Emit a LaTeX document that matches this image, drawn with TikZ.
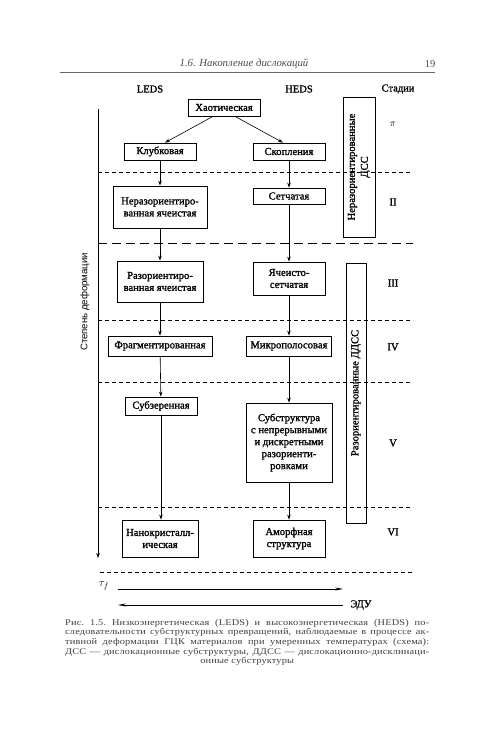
\documentclass[tikz,border=0pt]{standalone}
\usepackage{fontspec}
\setmainfont{Liberation Serif}
\setsansfont{Liberation Sans}
\newfontfamily\boxfont[FakeBold=1.4]{Liberation Serif}
\newfontfamily\capfont[FakeStretch=1.18,LetterSpace=2]{Liberation Serif}
\usetikzlibrary{arrows.meta}
\begin{document}
\begin{tikzpicture}[x=1pt,y=-1pt,
  bx/.style={draw,line width=0.8pt,inner sep=1pt,align=center,font=\boxfont\fontsize{10.6}{12}\selectfont},
  arr/.style={line width=0.6pt,-{Stealth[length=5pt,width=3.5pt]}},
  dsh/.style={line width=0.6pt,dash pattern=on 4pt off 3pt},
  ldsh/.style={line width=0.7pt,dash pattern=on 9pt off 5pt},
  lab/.style={font=\boxfont\fontsize{10.5}{11}\selectfont},
  stg/.style={font=\boxfont\fontsize{10.5}{11}\selectfont}]
\useasboundingbox[fill=white] (0,0) rectangle (500,750);
% header
\node[font=\itshape\fontsize{10.8}{11}\selectfont,text=black!70] (hdr) at (244,64) {1.6. Накопление дислокаций};
\node[font=\fontsize{10.5}{11}\selectfont,text=black!70] (pg) at (430,64) {19};
\draw[black!60,line width=0.6pt] (60,72) coordinate (hl) -- (435,72) coordinate (hr);
% column labels
\node[lab] (leds) at (150,89) {LEDS};
\node[lab] (heds) at (299,89) {HEDS};
\node[lab] (stad) at (398,89) {Стадии};
% boxes
\node[bx,minimum width=72pt,minimum height=17pt] (chaos) at (224,107.5) {Хаотическая};
\node[bx,minimum width=72pt,minimum height=17pt] (klub) at (160,151.5) {Клубковая};
\node[bx,minimum width=72pt,minimum height=17pt] (skop) at (289,151.5) {Скопления};
\node[bx,minimum width=94pt,minimum height=42pt] (nerazor) at (160,207) {Неразориентиро-\\ванная ячеистая};
\node[bx,minimum width=72pt,minimum height=16pt] (setch) at (289,196) {Сетчатая};
\node[bx,minimum width=86pt,minimum height=41pt] (razor) at (160,281.5) {Разориентиро-\\ванная ячеистая};
\node[bx,minimum width=72pt,minimum height=33pt] (yach) at (289,278.5) {Ячеисто-\\сетчатая};
\node[bx,minimum width=104pt,minimum height=20pt] (frag) at (160,346) {Фрагментированная};
\node[bx,minimum width=85pt,minimum height=20pt] (mikro) at (289,346) {Микрополосовая};
\node[bx,minimum width=72pt,minimum height=18pt] (subz) at (161,406) {Субзеренная};
\node[bx,minimum width=86pt,minimum height=79pt] (subst) at (289,442.5) {Субструктура\\с непрерывными\\и дискретными\\разориенти-\\ровками};
\node[bx,minimum width=76pt,minimum height=37pt] (nano) at (160,538.5) {Нанокристалл-\\ическая};
\node[bx,minimum width=72pt,minimum height=37pt] (amorf) at (289,538.5) {Аморфная\\структура};
% side boxes
\node[bx,minimum width=140pt,minimum height=32pt,rotate=90,inner sep=0pt,font=\boxfont\fontsize{10.6}{13}\selectfont] (dss) at (359,167) {Неразориентированные\\ДСС};
\node[bx,minimum width=260pt,minimum height=20pt,rotate=90,inner sep=0pt] (ddss) at (356,393) {Разориентированные ДДСС};
% arrows
\draw[arr] ([xshift=-11pt]chaos.south) -- ([xshift=5pt]klub.north);
\draw[arr] ([xshift=11pt]chaos.south) -- ([xshift=-6pt]skop.north);
\draw[arr] (klub) -- (nerazor);
\draw[arr] (skop) -- (setch);
\draw[arr] (nerazor) -- (razor);
\draw[arr] (setch) -- (yach);
\draw[arr] (razor) -- (frag);
\draw[arr] (yach) -- (mikro);
\draw[arr] (frag) -- (subz);
\draw[arr] (mikro) -- (subst);
\draw[arr] (subz.south) -- (subz.south |- nano.north);
\draw[arr] (subst) -- (amorf);
% dashed stage lines
\draw[dsh] (98,172) coordinate (d1a) -- (412,172) coordinate (d1b);
\draw[ldsh] (98,243) coordinate (d2a) -- (413,243) coordinate (d2b);
\draw[dsh] (98,320) coordinate (d3a) -- (413,320) coordinate (d3b);
\draw[dsh] (98,382) coordinate (d4a) -- (413,382) coordinate (d4b);
\draw[dsh] (98,507) coordinate (d5a) -- (413,507) coordinate (d5b);
\draw[dsh] (100,572) coordinate (d6a) -- (413,572) coordinate (d6b);
% stage labels
\node[font=\fontsize{10}{11}\selectfont] (s1) at (393,124) {$\pi$};
\node[stg] (s2) at (393,202) {II};
\node[stg] (s3) at (393,283) {III};
\node[stg] (s4) at (393,347) {IV};
\node[stg] (s5) at (393,443) {V};
\node[stg] (s6) at (393,532) {VI};
% deformation axis
\coordinate (axt) at (98,109);
\coordinate (axb) at (98,558);
\draw[arr] (axt) -- (axb);
\node[font=\sffamily\fontsize{9.6}{10}\selectfont,rotate=90] (stepdef) at (85,302) {Степень деформации};
% bottom arrows
\coordinate (t1) at (118,589);
\coordinate (t2) at (343,589);
\coordinate (e1) at (343,605);
\coordinate (e2) at (118,605);
\draw[line width=0.6pt,-{Stealth[length=8pt,width=3pt]}] (t1) -- (t2);
\draw[line width=0.6pt,-{Stealth[length=8pt,width=3pt]}] (e1) -- (e2);
\node[font=\fontsize{11}{11}\selectfont] (tau) at (104,586) {$\tau_f$};
\node[lab] (edu) at (361,605) {ЭДУ};
% caption
\node[anchor=north west,inner sep=0pt,text width=364pt,align=justify,text=black!75,font=\capfont\fontsize{8.75}{9.6}\selectfont] (cap) at (65,619) {Рис.~1.5.~Низкоэнергетическая (LEDS) и высокоэнергетическая (HEDS) по-\linebreak
следовательности субструктурных превращений, наблюдаемые в процессе ак-\linebreak
тивной деформации ГЦК материалов при умеренных температурах (схема):\linebreak
ДСС — дислокационные субструктуры, ДДСС — дислокационно-дисклинаци-\linebreak
\null\hfill онные субструктуры\hfill\null};
\end{tikzpicture}
\end{document}
